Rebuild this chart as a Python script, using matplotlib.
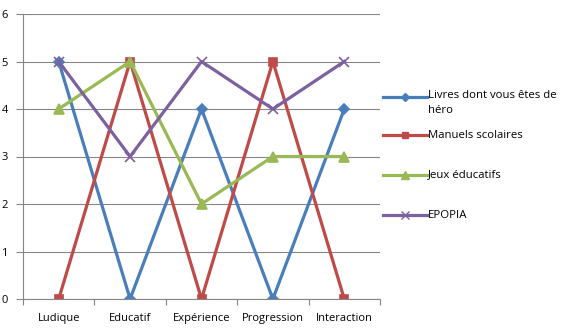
import matplotlib
matplotlib.use('Agg')
import matplotlib.pyplot as plt
from matplotlib.lines import Line2D

plt.rcParams['font.family'] = ['Open Sans', 'DejaVu Sans']

categories = ['Ludique', 'Educatif', 'Expérience', 'Progression', 'Interaction']
livres = [5, 0, 4, 0, 4]
manuels = [0, 5, 0, 5, 0]
jeux = [4, 5, 2, 3, 3]
epopia = [5, 3, 5, 4, 5]
labels = ['Livres dont vous êtes de\nhéro', 'Manuels scolaires', 'Jeux éducatifs', 'EPOPIA']

colors = ['#4A7EBB', '#BE4B48', '#98B954', '#7D60A0']
markers = ['D', 's', '^', 'x']
msizes = [5, 6, 7, 7]

W, H = 569, 330
fig = plt.figure(figsize=(W / 100, H / 100), dpi=100)
ax = fig.add_axes([23 / W, 1 - 299 / H, 357 / W, 285 / H])

x = range(len(categories))
for vals, c, m, s, lab in zip([livres, manuels, jeux, epopia], colors, markers, msizes, labels):
    ax.plot(x, vals, color=c, lw=2.3, marker=m, ms=s, mew=1.2, label=lab)

ax.set_xlim(-0.5, len(categories) - 0.5)
ax.set_ylim(0, 6)
ax.set_yticks(range(7))
ax.grid(axis='y', color='#868686', lw=0.8)
ax.set_axisbelow(True)
ax.set_xticks([i - 0.5 for i in range(len(categories) + 1)])
ax.set_xticklabels([])
ax.set_xticks(list(x), minor=True)
ax.set_xticklabels(categories, minor=True)
ax.tick_params(axis='x', which='minor', length=0, pad=10, labelsize=8)
ax.tick_params(axis='x', which='major', length=4, color='#868686')
ax.tick_params(axis='y', length=5, color='#868686', labelsize=8, pad=6)
for s in ['top', 'right']:
    ax.spines[s].set_visible(False)
for s in ['left', 'bottom']:
    ax.spines[s].set_color('#868686')

# legend, drawn by hand so the two-line entry aligns like the original
ys = [97, 135, 175, 215]
for y, c, m, s, lab in zip(ys, colors, markers, msizes, labels):
    yf = 1 - y / H
    fig.add_artist(Line2D([383 / W, 427 / W], [yf, yf], color=c, lw=2.3,
                          transform=fig.transFigure))
    fig.add_artist(Line2D([405 / W], [yf], color=c, marker=m, ms=s - 1, mew=1.0,
                          transform=fig.transFigure))
    if '\n' in lab:
        fig.text(428 / W, yf + 7 / H, lab, fontsize=8.2, va='top', linespacing=1.45)
    else:
        fig.text(428 / W, yf, lab, fontsize=8.2, va='center')

fig.savefig('out.png', dpi=100)
